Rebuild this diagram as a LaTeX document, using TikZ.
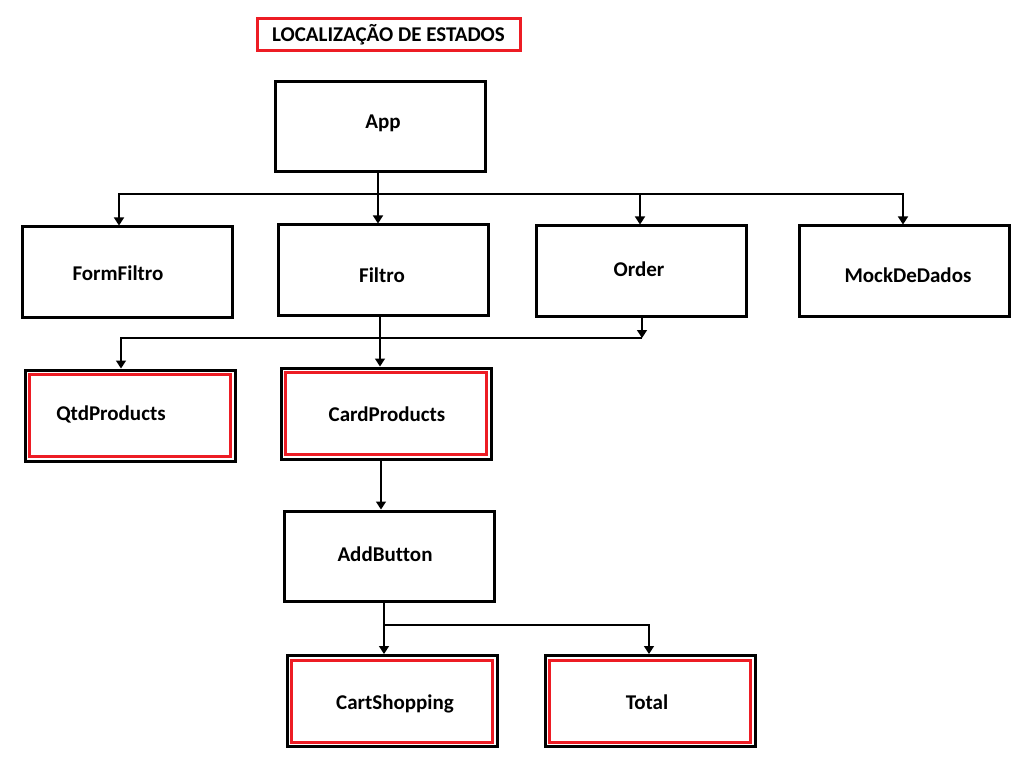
\documentclass[tikz,border=0pt]{standalone}
\usepackage{fontspec}
\setmainfont{Carlito}[Ligatures=NoCommon]
\usetikzlibrary{arrows.meta}
\begin{document}
\begin{tikzpicture}[x=1pt,y=-1pt,
  txt/.style={font=\fontsize{21}{25}\selectfont\bfseries, inner sep=0pt},
  box/.style={draw=black, line width=3pt, minimum width=210pt, minimum height=90pt, inner sep=0pt, fill=white},
  redbox/.style={box, minimum height=91pt},
  conn/.style={draw=black, line width=1.4pt},
  arr/.style={conn, -{Triangle[width=10pt,length=8pt]}}
]
\useasboundingbox (0,0) rectangle (1023,762);
\fill[white] (0,0) rectangle (1023,762);

% title
\node[draw={rgb,255:red,237;green,28;blue,36}, line width=3pt, minimum width=263pt, minimum height=32pt, inner sep=0pt, txt] (title) at (388.5,35) {LOCALIZAÇÃO DE ESTADOS};

% boxes
\node[box, label={[txt,shift={(3pt,4pt)}]center:App}] (app) at (380,127) {};
\node[box, label={[txt,shift={(-9pt,-1pt)}]center:FormFiltro}] (form) at (127,272) {};
\node[box, label={[txt,shift={(-1pt,-5pt)}]center:Filtro}] (filtro) at (383,270) {};
\node[box, label={[txt,shift={(-2pt,2pt)}]center:Order}] (order) at (641,271) {};
\node[box, label={[txt,shift={(4pt,-4pt)}]center:MockDeDados}] (mock) at (904,271) {};
\node[redbox, label={[txt,shift={(-19pt,1pt)}]center:QtdProducts}] (qtd) at (130,415.5) {};
\node[redbox, label={[txt,shift={(1pt,-1pt)}]center:CardProducts}] (card) at (386,413.5) {};
\node[box, label={[txt,shift={(-4pt,2pt)}]center:AddButton}] (add) at (389,556) {};
\node[redbox, label={[txt,shift={(3pt,-3pt)}]center:CartShopping}] (cart) at (392,701) {};
\node[redbox, label={[txt,shift={(-3pt,-1pt)}]center:Total}] (total) at (650,701) {};

% inner red frames
\foreach \n in {qtd,card,cart,total}{
  \draw[draw={rgb,255:red,237;green,28;blue,36}, line width=3pt]
    ([shift={(6,6)}]\n.north west) rectangle ([shift={(-6,-6)}]\n.south east);
}

% connectors from App
\coordinate (b1) at (378,194);
\draw[conn] ([xshift=-2pt]app.south) -- (b1);
\draw[arr] (b1) -| ([xshift=-8pt]form.north);
\draw[arr] (b1) -- ([xshift=-5pt]filtro.north);
\draw[arr] (b1) -| ([xshift=-1pt]order.north);
\draw[arr] (b1) -| ([xshift=-1pt]mock.north);

% second level
\coordinate (b2) at (642,338);
\draw[arr] (order.south -| b2) -- (b2);
\draw[arr] (b2) -| ([xshift=-9pt]qtd.north);
\draw[arr] ([xshift=-3pt]filtro.south) -- ([xshift=-3pt]filtro.south |- card.north);

% CardProducts -> AddButton
\draw[arr] ([xshift=-5pt]card.south) -- ([xshift=-5pt]card.south |- add.north);

% AddButton -> Cart, Total
\coordinate (b3) at (384,625);
\draw[conn] (add.south -| b3) -- (b3);
\draw[arr] (b3) -- (b3 |- cart.north);
\draw[arr] (b3) -| ([xshift=-1pt]total.north);
\end{tikzpicture}
\end{document}
